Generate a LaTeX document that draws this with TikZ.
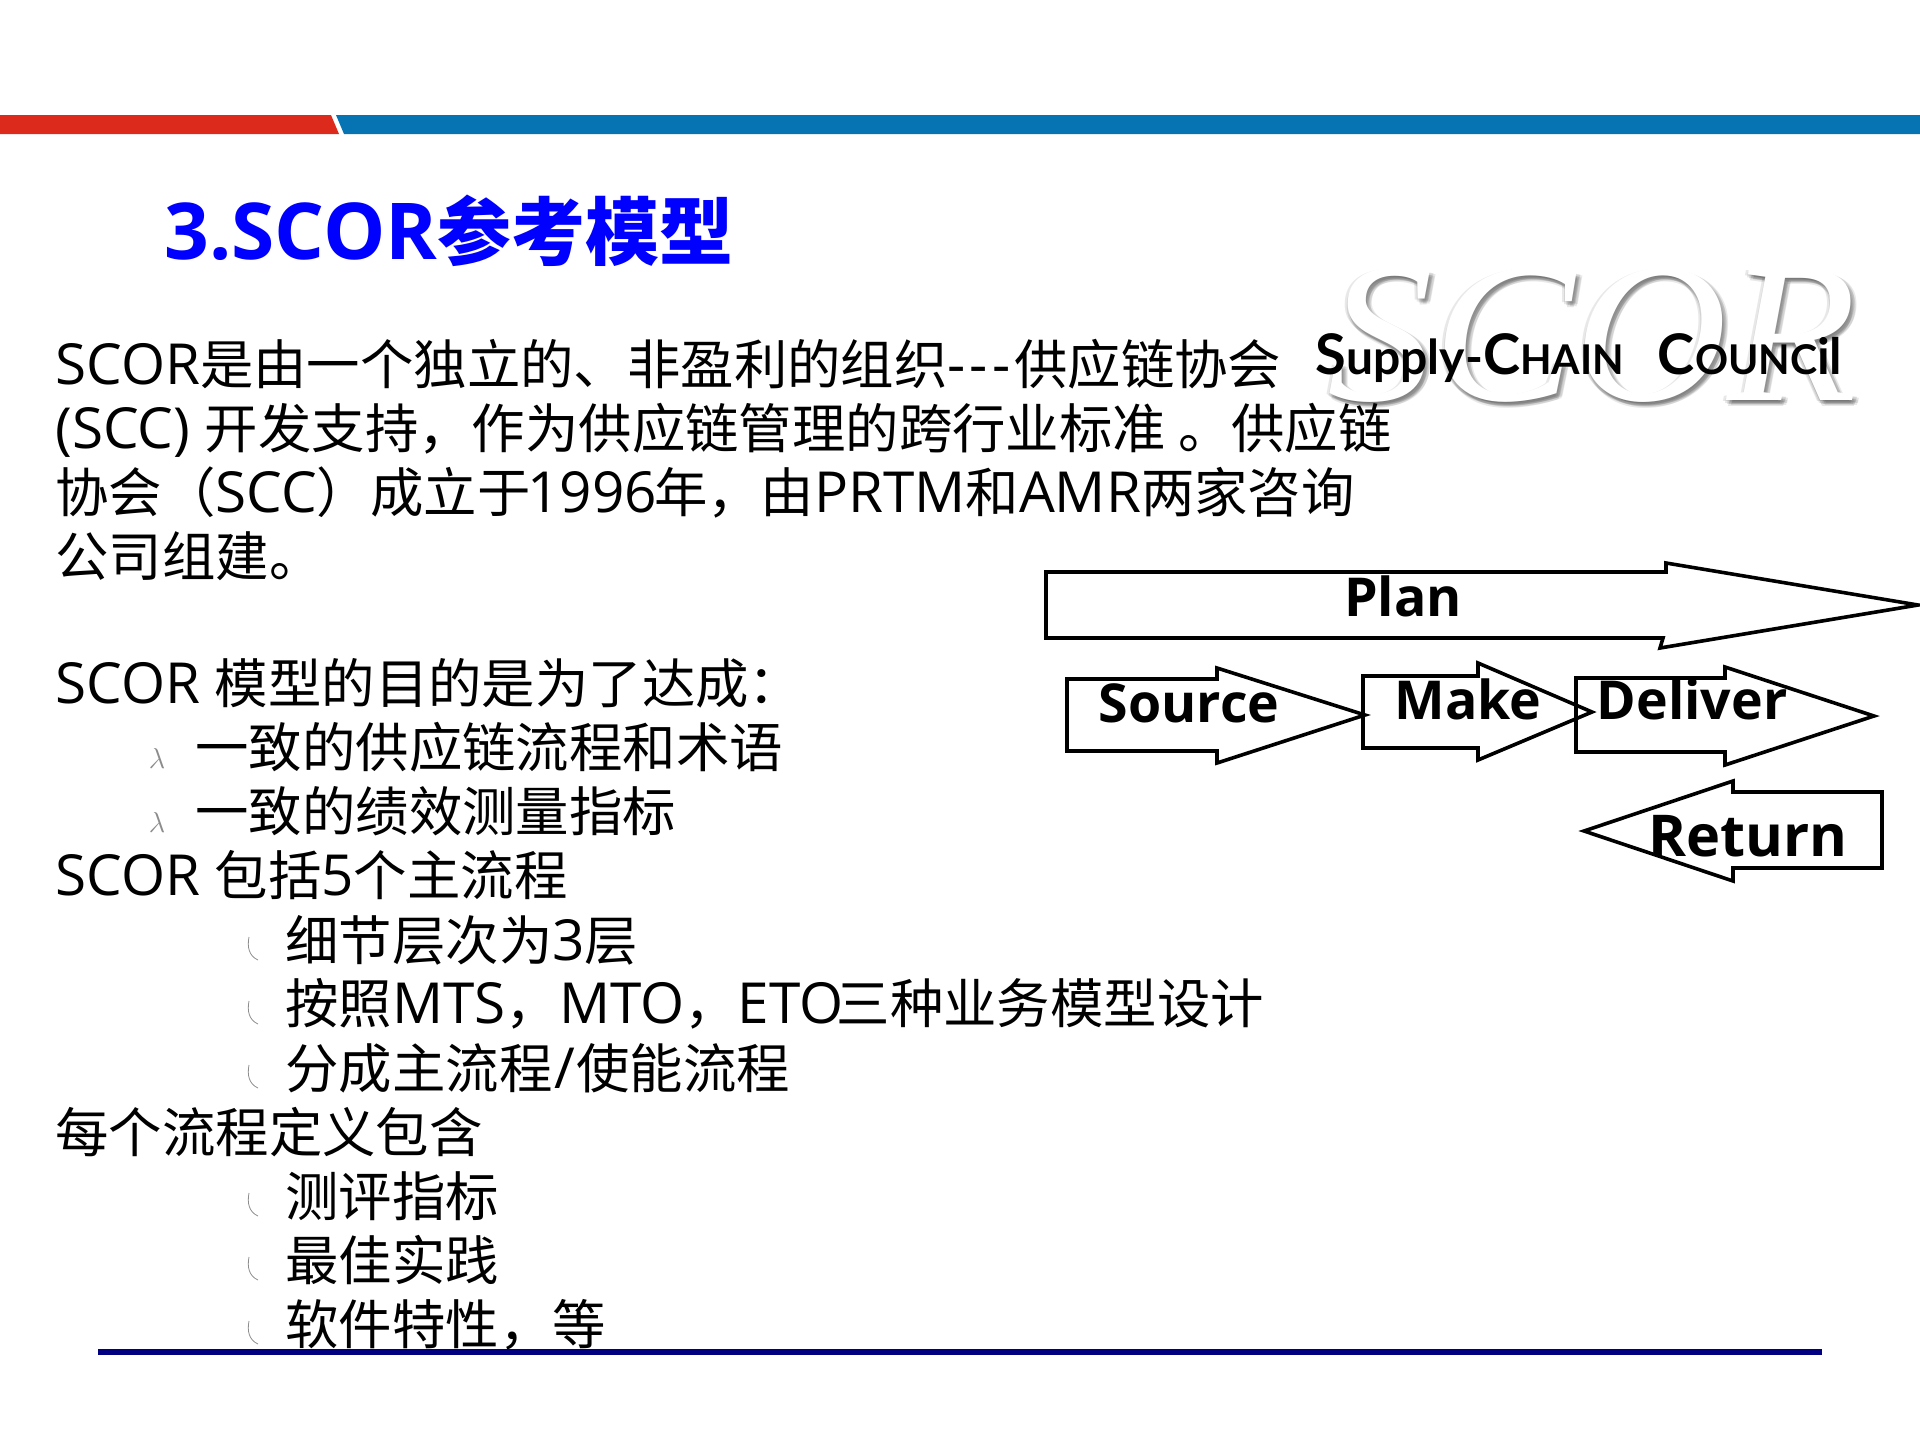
\documentclass[tikz,border=0pt]{standalone}
\usepackage{fontspec}
\setmainfont[Scale=1.06]{Open Sans}
\newfontfamily\cjk{Noto Sans CJK SC}
\newfontfamily\logofont{Liberation Serif}
\newfontfamily\councilfont{Lato}
\newcommand{\zh}[1]{{\cjk #1}}
\definecolor{barred}{HTML}{DC2A1C}
\definecolor{barblue}{HTML}{0673B3}
\definecolor{titleblue}{HTML}{0000FF}
\definecolor{rulenavy}{HTML}{000080}
\tikzset{
  txtline/.style={anchor=base west,inner sep=0pt,font=\fontsize{26.7}{30}\selectfont},
  blockarrow/.style={draw=black,line width=1.8pt,line join=miter},
  blocklabel/.style={anchor=base,inner sep=0pt,font=\fontsize{25.3}{30}\selectfont\bfseries},
  lambdamark/.style={inner sep=0pt,text=black!45,font=\fontsize{15}{16}\selectfont},
  curvemark/.style={draw=black!45,line width=0.4pt},
  logoletter/.style={inner sep=0pt,anchor=base,xscale=1.06,font=\fontsize{100}{100}\logofont\itshape\selectfont}
}
\begin{document}
\begin{tikzpicture}[x=0.5pt,y=-0.5pt]
\useasboundingbox (0,0) rectangle (1920,1440);
\fill[barred] (0,115) -- (331,115) -- (339,134) -- (0,134) -- cycle;
\fill[barblue] (336,115) -- (1920,115) -- (1920,134) -- (344,134) -- cycle;
\node[anchor=base west,inner sep=0pt,text=titleblue,font=\fontsize{37}{40}\selectfont\bfseries] (title) at (164,259) {3.SCOR\zh{参考模型}};
\foreach \dx/\dy in {-3/1,-1/3,1/4,3/4,4/2,5/5,2/6,6/3} {
  \node[logoletter,text=black,opacity=0.09] at (1592+\dx,400+\dy) {SCOR};
}
\node[logoletter,text=white] (logo) at (1592,400) {SCOR};
\node[anchor=base,inner sep=0pt,font=\fontsize{20.5}{24}\councilfont\bfseries\selectfont] (council) at (1579,374) {{\fontsize{28}{24}\selectfont S}{\fontsize{24}{24}\selectfont upply-}{\fontsize{28}{24}\selectfont C}HAIN\hspace{17pt}{\fontsize{28}{24}\selectfont C}OUNC{\fontsize{25}{24}\selectfont il}};
\node[txtline] (line1) at (55,384) {SCOR\zh{是由一个独立的、非盈利的组织}{-}\hspace{2pt}{-}\hspace{2pt}{-}\hspace{2pt}\zh{供应链协会}};
\node[txtline] (line2) at (55,448) {(SCC) \zh{开发支持，作为供应链管理的跨行业标准 。供应链}};
\node[txtline] (line3) at (55,512) {\zh{协会（}SCC\zh{）成立于}\hspace{-1.5pt}1996\hspace{-1.5pt}\zh{年，由}PRTM\zh{和}AMR\zh{两家咨询}};
\node[txtline] (line4) at (55,576) {\zh{公司组建。}};
\node[txtline] (line5) at (55,703) {SCOR \zh{模型的目的是为了达成：}};
\node[txtline] (line6) at (195,767) {\zh{一致的供应链流程和术语}};
\node[txtline] (line7) at (195,831) {\zh{一致的绩效测量指标}};
\node[txtline] (line8) at (55,895) {SCOR \zh{包括}5\zh{个主流程}};
\node[txtline] (line9) at (285,960) {\zh{细节层次为}3\zh{层}};
\node[txtline] (line10) at (285,1023) {\zh{按照}MTS\zh{，}MTO\zh{，}ETO\hspace{-3.5pt}\zh{三种业务模型设计}};
\node[txtline] (line11) at (285,1088) {\zh{分成主流程}\hspace{0.8pt}/\hspace{0.8pt}\zh{使能流程}};
\node[txtline] (line12) at (55,1152) {\zh{每个流程定义包含}};
\node[txtline] (line13) at (285,1216) {\zh{测评指标}};
\node[txtline] (line14) at (285,1280) {\zh{最佳实践}};
\node[txtline] (line15) at (285,1344) {\zh{软件特性，等}};
\node[lambdamark] (mark1) at (157,758) {$\lambda$};
\node[lambdamark] (mark2) at (157,822) {$\lambda$};
\foreach \y in {937,1001,1065,1193,1257,1321} {
  \draw[curvemark] (249,\y) .. controls (247,\y+10) and (249,\y+19) .. (258,\y+23);
}
\draw[blockarrow] (1046,572) -- (1666,572) -- (1666,563) -- (1918,605) -- (1660,648) -- (1663,638) -- (1046,638) -- cycle;
\draw[blockarrow] (1067,679) -- (1217,679) -- (1217,668) -- (1365,715) -- (1217,763) -- (1217,751) -- (1067,751) -- cycle;
\draw[blockarrow] (1363,676) -- (1478,676) -- (1478,663) -- (1592,712) -- (1478,760) -- (1478,748) -- (1363,748) -- cycle;
\draw[blockarrow] (1576,678) -- (1725,678) -- (1725,667) -- (1874,716) -- (1725,765) -- (1725,752) -- (1576,752) -- cycle;
\draw[blockarrow] (1882,792) -- (1733,792) -- (1733,781) -- (1584,831) -- (1733,881) -- (1733,868) -- (1882,868) -- cycle;
\node[blocklabel] (plan) at (1403,616) {Plan};
\node[blocklabel] (source) at (1189,722) {Source};
\node[blocklabel] (make) at (1468,719) {Make};
\node[blocklabel] (deliver) at (1692,719) {Deliver};
\node[blocklabel,font=\fontsize{27.2}{30}\selectfont\bfseries] (return) at (1748,856) {Return};
\draw[rulenavy,line width=3pt] (98,1352) -- (1822,1352);
\end{tikzpicture}
\end{document}
